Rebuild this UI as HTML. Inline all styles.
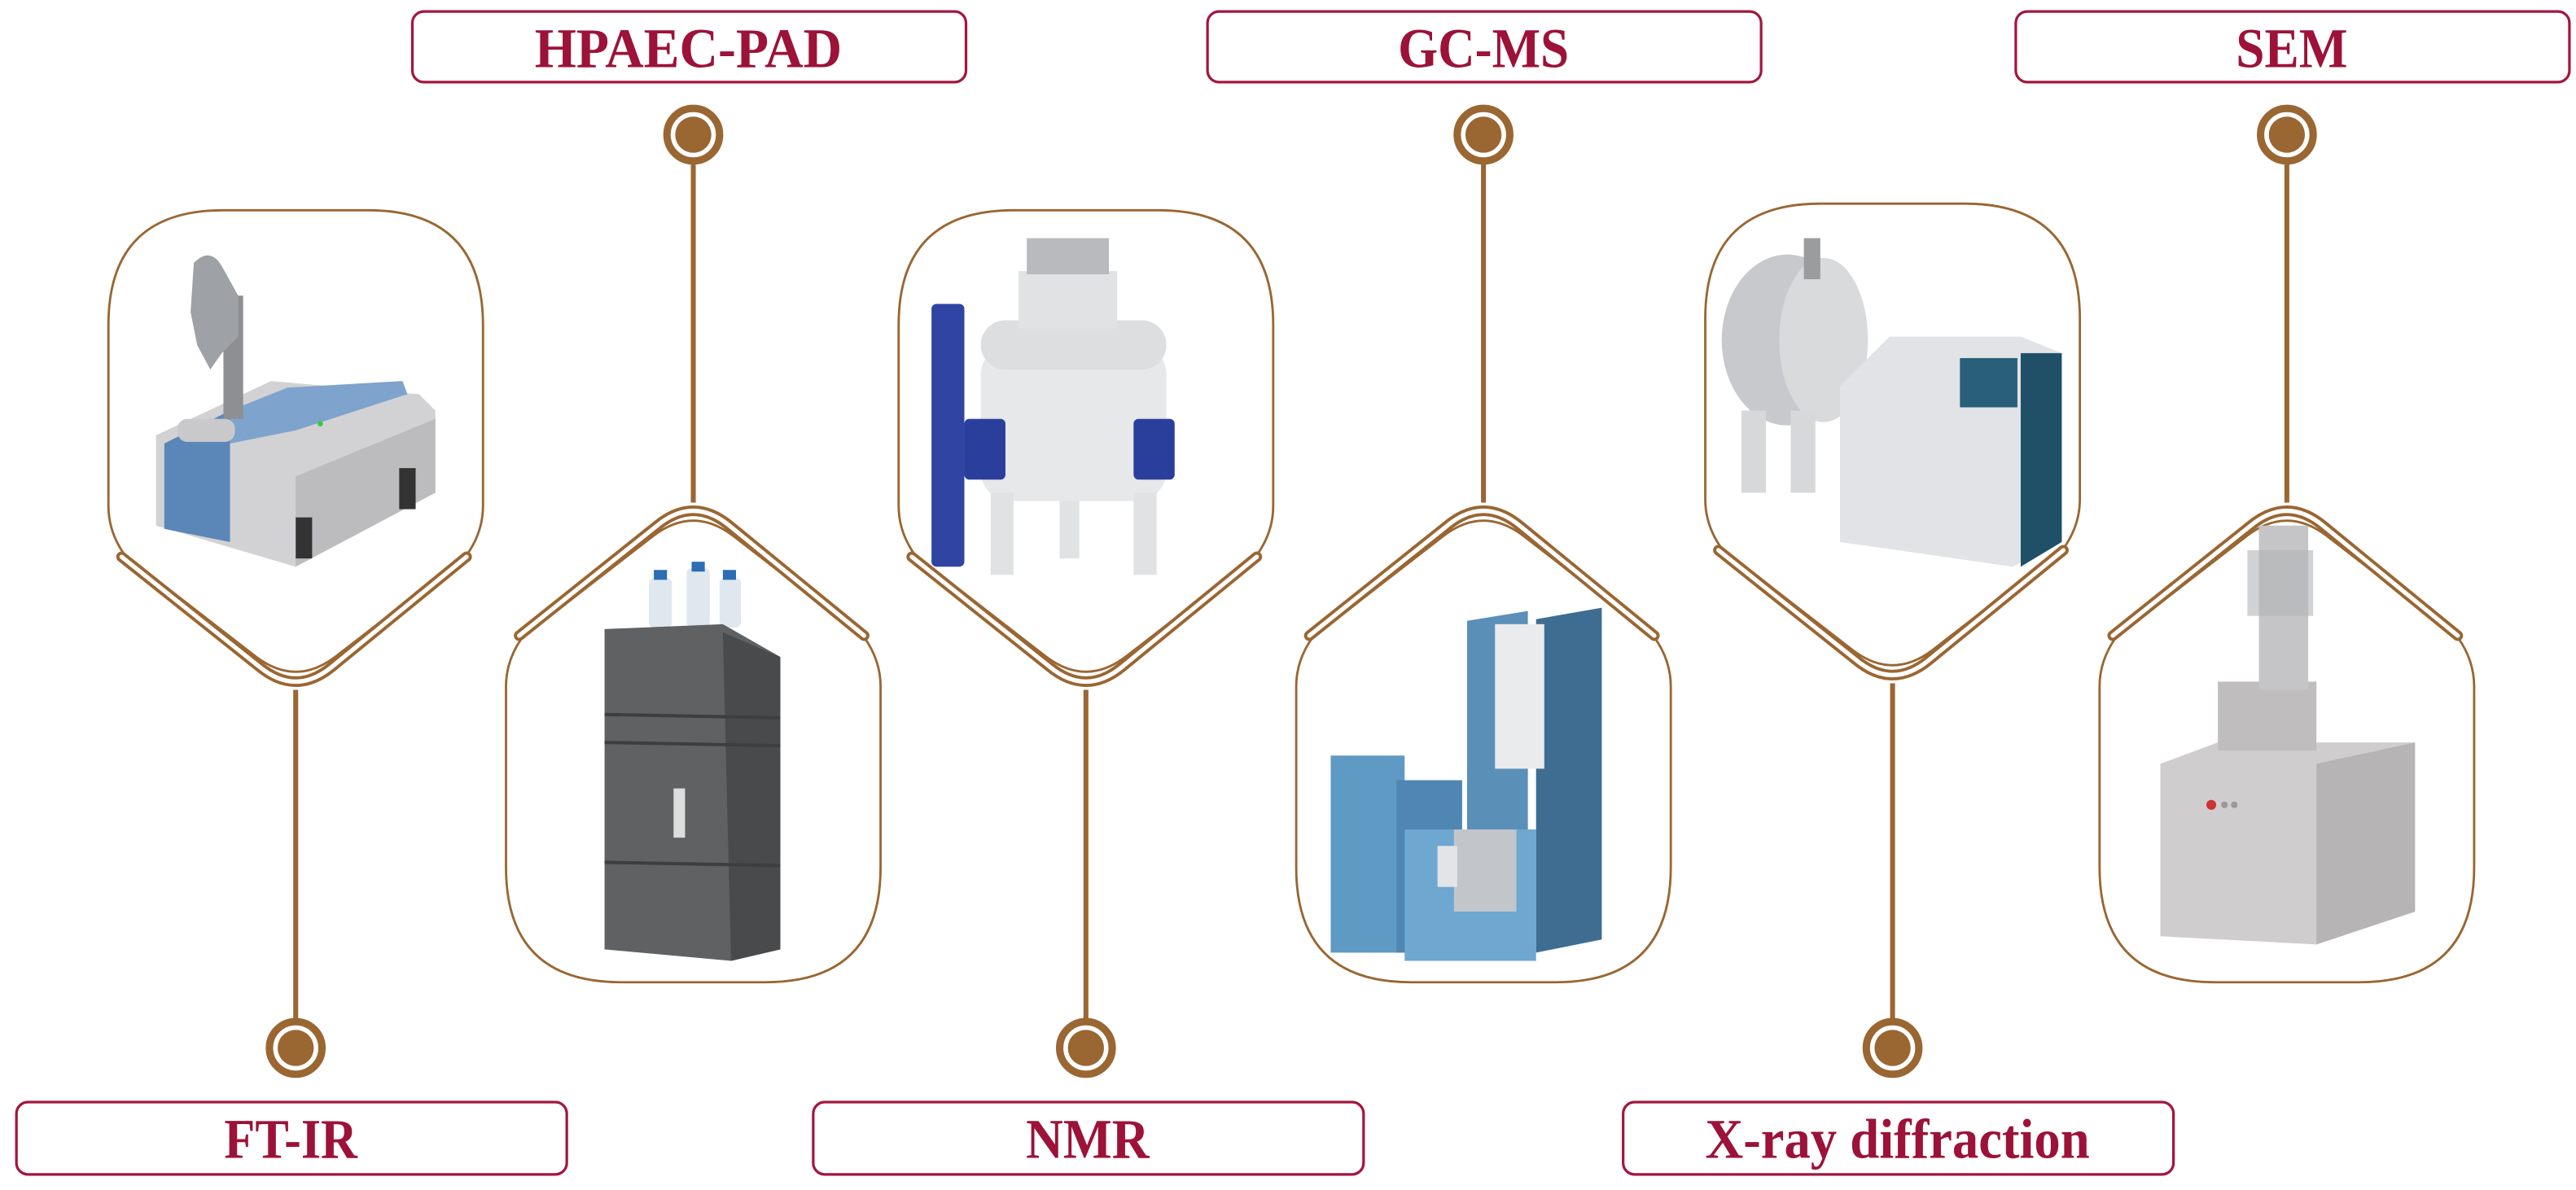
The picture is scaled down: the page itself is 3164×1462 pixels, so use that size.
<!DOCTYPE html>
<html><head><meta charset="utf-8"><style>
html,body{margin:0;padding:0;background:#fff;}
svg{display:block;}
text{font-family:"Liberation Serif",serif;font-weight:bold;fill:#9c1238;font-size:34px;}
</style></head><body>
<svg width="3164" height="1462" viewBox="0 0 1568 724.5" preserveAspectRatio="none" xmlns="http://www.w3.org/2000/svg">
<defs>
<path id="frame" d="M -114,180 L -114,70 Q -114,0 -44,0 L 44,0 Q 114,0 114,70 L 114,180 Q 114,196 104,210 L 24,272 Q 0,290 -24,272 L -104,210 Q -114,196 -114,180 Z" fill="none" stroke="#9a6632" stroke-width="1.4"/>
<g id="chev">
<path d="M -106,211 L -22,278 Q 0,296 22,278 L 104,211" fill="none" stroke="#9a6632" stroke-width="6.5" stroke-linecap="round" stroke-linejoin="round"/>
<path d="M -106,211 L -22,278 Q 0,296 22,278 L 104,211" fill="none" stroke="#fff" stroke-width="2.6" stroke-linecap="round" stroke-linejoin="round"/>
</g>
<g id="dot">
<circle r="16" fill="#fff" stroke="#9a6632" stroke-width="4.5"/>
<circle r="11" fill="#9a6632"/>
</g>
</defs>

<!-- connector lines -->
<g stroke="#9a6632" stroke-width="3">
<line x1="180" y1="420" x2="180" y2="625"/>
<line x1="661" y1="420" x2="661" y2="625"/>
<line x1="1152" y1="416" x2="1152" y2="625"/>
<line x1="422" y1="98" x2="422" y2="306"/>
<line x1="903" y1="98" x2="903" y2="306"/>
<line x1="1392" y1="98" x2="1392" y2="306"/>
</g>

<!-- down frames -->
<g transform="translate(180,128)"><use href="#frame"/><use href="#chev"/></g>
<g transform="translate(661,128)"><use href="#frame"/><use href="#chev"/></g>
<g transform="translate(1152,124)"><use href="#frame"/><use href="#chev"/></g>
<!-- up frames -->
<g transform="translate(422,598) scale(1,-1)"><use href="#frame"/><use href="#chev"/></g>
<g transform="translate(903,598) scale(1,-1)"><use href="#frame"/><use href="#chev"/></g>
<g transform="translate(1392,598) scale(1,-1)"><use href="#frame"/><use href="#chev"/></g>

<!-- dots -->
<use href="#dot" x="422" y="82"/><use href="#dot" x="903" y="82"/><use href="#dot" x="1392" y="82"/>
<use href="#dot" x="180" y="638"/><use href="#dot" x="661" y="638"/><use href="#dot" x="1152" y="638"/>

<!-- label boxes -->
<g fill="#fff" stroke="#a3163f" stroke-width="1.6">
<rect x="251" y="7" width="337" height="43" rx="7"/>
<rect x="735" y="7" width="337" height="43" rx="7"/>
<rect x="1227" y="7" width="337" height="43" rx="7"/>
<rect x="10" y="671" width="335" height="44" rx="7"/>
<rect x="495" y="671" width="335" height="44" rx="7"/>
<rect x="988" y="671" width="335" height="44" rx="7"/>
</g>
<text x="419" y="41" text-anchor="middle" textLength="187" lengthAdjust="spacingAndGlyphs">HPAEC-PAD</text>
<text x="903" y="41" text-anchor="middle" textLength="104" lengthAdjust="spacingAndGlyphs">GC-MS</text>
<text x="1395" y="41" text-anchor="middle" textLength="68" lengthAdjust="spacingAndGlyphs">SEM</text>
<text x="177" y="705" text-anchor="middle" textLength="81" lengthAdjust="spacingAndGlyphs">FT-IR</text>
<text x="662" y="705" text-anchor="middle" textLength="75" lengthAdjust="spacingAndGlyphs">NMR</text>
<text x="1155" y="705" text-anchor="middle" textLength="234" lengthAdjust="spacingAndGlyphs">X-ray diffraction</text>

<!-- FT-IR device -->
<g>
<polygon points="95,265 165,232 255,240 265,250 265,300 180,345 95,320" fill="#d2d2d4"/>
<polygon points="180,290 265,255 265,300 180,345" fill="#bcbcbe"/>
<polygon points="100,270 140,250 140,330 100,322" fill="#5b86b8"/>
<polygon points="140,250 175,236 245,232 248,240 180,262 140,270" fill="#7ea3cc"/>
<rect x="108" y="255" width="35" height="14" rx="6" fill="#c9c9cc"/>
<rect x="136" y="180" width="12" height="75" fill="#8d8f92"/>
<path d="M118,160 Q128,150 135,162 L145,180 L145,205 L135,215 L128,225 L120,210 L116,190 Z" fill="#9ea1a5"/>
<rect x="243" y="285" width="10" height="25" fill="#333"/>
<rect x="180" y="315" width="10" height="25" fill="#333"/>
<circle cx="195" cy="258" r="1.6" fill="#3c3"/>
</g>

<!-- HPAEC device -->
<g>
<rect x="395" y="352" width="14" height="30" rx="3" fill="#dfe8ee"/>
<rect x="418" y="346" width="14" height="36" rx="3" fill="#dfe8ee"/>
<rect x="438" y="352" width="13" height="30" rx="3" fill="#dfe8ee"/>
<rect x="398" y="347" width="8" height="6" fill="#2c6db3"/><rect x="421" y="342" width="8" height="6" fill="#2c6db3"/><rect x="440" y="347" width="8" height="6" fill="#2c6db3"/>
<polygon points="368,383 440,380 475,400 475,578 445,585 368,578" fill="#5f6163"/>
<polygon points="440,385 475,400 475,578 445,585" fill="#484a4c"/>
<line x1="368" y1="435" x2="475" y2="437" stroke="#3c3e40" stroke-width="2"/>
<line x1="368" y1="452" x2="475" y2="454" stroke="#3c3e40" stroke-width="2"/>
<line x1="368" y1="525" x2="475" y2="527" stroke="#3c3e40" stroke-width="2"/>
<rect x="410" y="480" width="7" height="30" fill="#ddd"/>
</g>

<!-- NMR device -->
<g>
<rect x="567" y="185" width="20" height="160" rx="3" fill="#2f44a3"/>
<rect x="597" y="210" width="113" height="95" rx="18" fill="#e6e8ea"/>
<rect x="597" y="195" width="113" height="30" rx="15" fill="#dcdee0"/>
<rect x="620" y="165" width="60" height="35" fill="#e0e2e4"/>
<rect x="625" y="145" width="50" height="22" fill="#b8babd"/>
<rect x="603" y="300" width="14" height="50" fill="#e0e2e4"/>
<rect x="690" y="300" width="14" height="50" fill="#e0e2e4"/>
<rect x="645" y="305" width="12" height="35" fill="#e0e2e4"/>
<rect x="587" y="255" width="25" height="37" rx="3" fill="#2a3f9c"/>
<rect x="690" y="255" width="25" height="37" rx="3" fill="#2a3f9c"/>
</g>

<!-- GC-MS device -->
<g>
<polygon points="893,378 930,372 930,575 893,575" fill="#5a8fb8"/>
<polygon points="935,377 975,370 975,572 935,580" fill="#3f6d92"/>
<rect x="910" y="380" width="30" height="88" fill="#e9ebed"/>
<rect x="810" y="460" width="45" height="120" fill="#5f9ac4"/>
<rect x="850" y="475" width="40" height="105" fill="#4f86b2"/>
<rect x="855" y="505" width="80" height="80" fill="#6ea7cf"/>
<rect x="885" y="505" width="38" height="50" fill="#c2c6ca"/>
<rect x="875" y="515" width="12" height="25" fill="#e2e4e6"/>
</g>

<!-- X-ray device -->
<g>
<ellipse cx="1088" cy="207" rx="40" ry="52" fill="#c7c9cc"/>
<ellipse cx="1110" cy="207" rx="27" ry="50" fill="#d8dadc"/>
<rect x="1060" y="250" width="15" height="50" fill="#d6d8da"/>
<rect x="1090" y="250" width="15" height="50" fill="#d6d8da"/>
<rect x="1098" y="145" width="10" height="25" fill="#9a9c9e"/>
<polygon points="1120,235 1150,205 1230,205 1255,215 1255,330 1225,345 1120,330" fill="#e1e3e6"/>
<polygon points="1230,215 1255,215 1255,330 1230,345" fill="#1f5068"/>
<rect x="1193" y="218" width="35" height="30" fill="#2a5f7a"/>
</g>

<!-- SEM device -->
<g>
<polygon points="1315,465 1350,452 1470,452 1470,555 1410,575 1315,570" fill="#cfcdcd"/>
<polygon points="1410,465 1470,452 1470,555 1410,575" fill="#b6b4b4"/>
<rect x="1350" y="415" width="60" height="42" fill="#bfbdbd"/>
<rect x="1375" y="320" width="30" height="100" fill="#c5c5c7"/>
<rect x="1368" y="335" width="40" height="40" fill="#b2b4b6" opacity="0.6"/>
<circle cx="1346" cy="490" r="3" fill="#c33"/><circle cx="1354" cy="490" r="2" fill="#999"/><circle cx="1360" cy="490" r="2" fill="#999"/>
</g>
</svg>
</body></html>
